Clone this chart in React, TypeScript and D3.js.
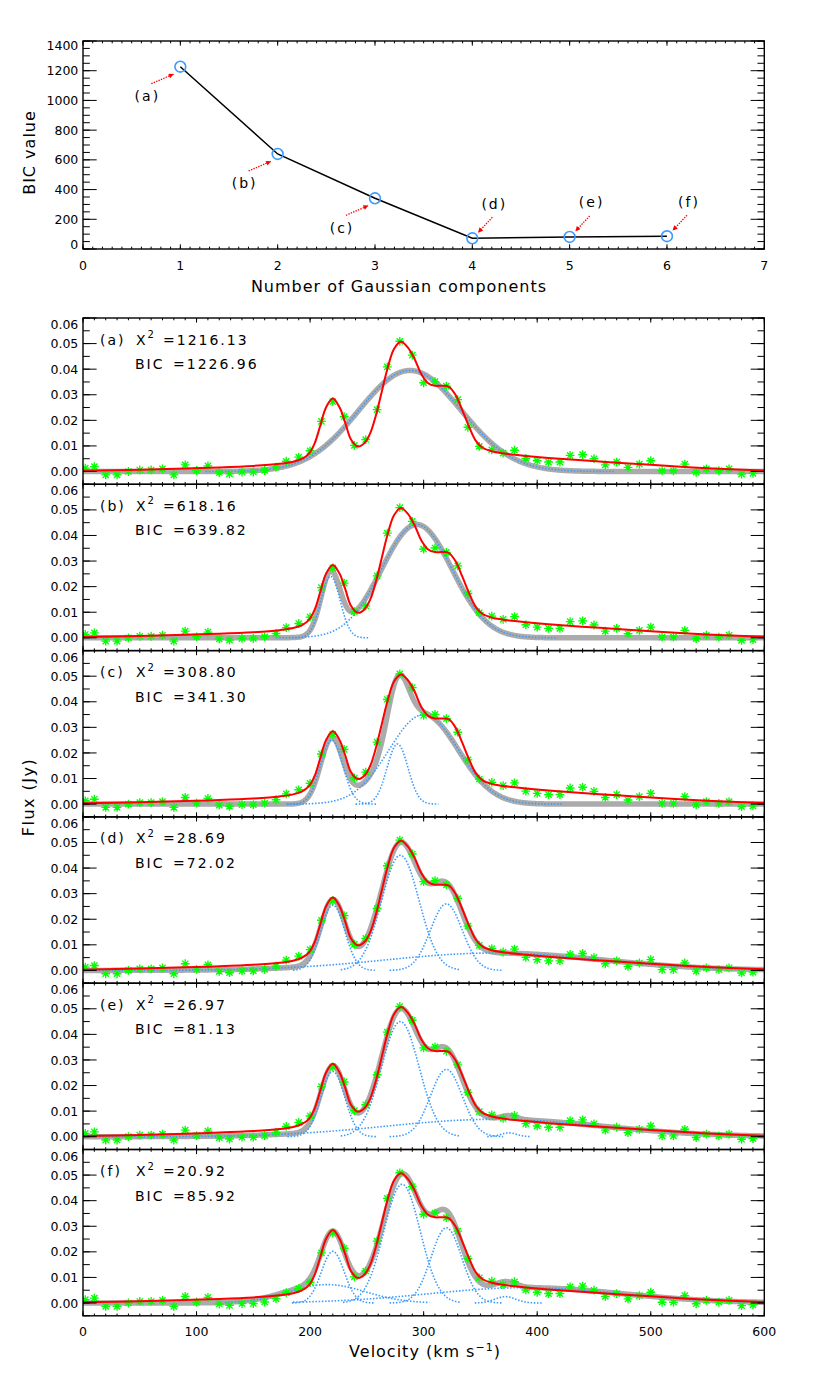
import React from 'react';
import * as d3 from 'd3';

// ---------------- DATA ----------------
// Top chart: BIC vs number of Gaussian components
const nComponents = [1, 2, 3, 4, 5, 6];
const bicValues = [1226.96, 639.82, 341.30, 72.02, 81.13, 85.92];
const chi2Values = [1216.13, 618.16, 308.80, 28.69, 26.97, 20.92];
const panelLetters = ['a', 'b', 'c', 'd', 'e', 'f'];
const topXTicks = [0, 1, 2, 3, 4, 5, 6, 7];
const topYTicks = [0, 200, 400, 600, 800, 1000, 1200, 1400];

// Observed spectrum (green asterisks)
const velocity = [2, 10, 20, 30, 40, 50, 60, 70, 80, 90, 100, 110, 120, 129, 140, 150, 160, 170, 179, 190,
  200, 210, 220, 230, 239, 249, 259, 268, 279, 290, 300, 310, 320, 330, 339, 349, 360, 370, 380, 390,
  400, 410, 420, 429, 440, 450, 460, 470, 480, 490, 500, 510, 520, 530, 540, 549, 560, 569, 580, 590];
const flux = [0.0013, 0.0019, -0.0013, -0.0013, 0.0000, 0.0006, 0.0006, 0.0010, -0.0013, 0.0026,
  0.0004, 0.0022, -0.0004, -0.0009, -0.0002, -0.0002, 0.0004, 0.0017, 0.0040, 0.0056,
  0.0081, 0.0196, 0.0273, 0.0214, 0.0102, 0.0125, 0.0242, 0.0409, 0.0509, 0.0455,
  0.0347, 0.0351, 0.0334, 0.0281, 0.0173, 0.0098, 0.0085, 0.0072, 0.0083, 0.0051,
  0.0042, 0.0037, 0.0037, 0.0063, 0.0066, 0.0050, 0.0026, 0.0037, 0.0016, 0.0029,
  0.0042, 0.0003, 0.0003, 0.0029, -0.0003, 0.0010, 0.0003, 0.0010, -0.0010, -0.0007];

// Smoothed spectrum (red line)
const smoothVelocity = [0, 50, 90, 120, 150, 173, 185, 193, 199, 204, 209, 214, 220, 226, 231, 236, 242, 248,
  253, 258, 263, 268, 274, 280, 286, 292, 298, 304, 310, 316, 322, 328, 334, 340, 346, 352, 360, 370,
  390, 410, 455, 500, 550, 600];
const smoothFlux = [0.0003, 0.0007, 0.0012, 0.0016, 0.0022, 0.0030, 0.0038, 0.0050, 0.0070, 0.0110, 0.0180,
  0.0250, 0.0285, 0.0250, 0.0190, 0.0125, 0.0098, 0.0112, 0.0150, 0.0220, 0.0310, 0.0400, 0.0480, 0.0507,
  0.0485, 0.0440, 0.0380, 0.0345, 0.0335, 0.0335, 0.0332, 0.0300, 0.0240, 0.0175, 0.0120, 0.0093, 0.0079,
  0.0071, 0.0061, 0.0053, 0.0039, 0.0026, 0.0013, 0.0004];

// Gaussian components per panel: [amplitude (Jy), centre (km/s), sigma (km/s), drawn from, drawn to]
const componentsA = [[0.0395, 288, 45, 108, 468]];
const componentsB = [[0.0240, 218, 8.5, 184, 252], [0.0443, 294, 31, 170, 418]];
const componentsC = [[0.0250, 219, 9.8, 180, 258], [0.0235, 277, 9.2, 240, 313], [0.0350, 300, 30.5, 179, 422]];
const componentsD = [[0.0255, 220, 10.5, 185, 257], [0.0450, 279.5, 16.5, 227, 332], [0.0260, 320, 14, 270, 370],
  [0.0068, 362, 95, 0, 600]];
const componentsE = [[0.0255, 220, 10.5, 180, 259], [0.0450, 279.5, 16.5, 227, 332], [0.0263, 320, 14, 270, 370],
  [0.0068, 362, 95, 0, 600], [0.0015, 375, 7, 356, 394]];
const componentsF = [[0.0202, 220, 10, 184, 256], [0.0072, 215, 34, 125, 305], [0.0464, 281, 16, 229, 333],
  [0.0294, 320, 13.5, 270, 370], [0.0060, 390, 85, 185, 600], [0.0025, 372, 9, 345, 405]];
const panelComponents = [componentsA, componentsB, componentsC, componentsD, componentsE, componentsF];

const velTicks = [0, 100, 200, 300, 400, 500, 600];
const fluxTicks = [0, 0.01, 0.02, 0.03, 0.04, 0.05, 0.06];

// ---------------- LAYOUT / STYLE ----------------
const FONT = "'DejaVu Sans', Verdana, sans-serif";
const XL = 83, XR = 764.3;
const TOP_T = 41, TOP_B = 249;
const P0 = 318, PH = 166.3;
const GREEN = '#00ff00', BLUE = '#3a9bff', GRAY = '#ababab', RED = '#ff0000';

const gauss = (c: number[], v: number) => c[0] * Math.exp(-((v - c[1]) ** 2) / (2 * c[2] * c[2]));

function BoxTicks({ x, y, xMajor, xMinor, yMajor, yMinor, xLen, yLen }: any) {
  const [x0, x1] = x.range();
  const [y0, y1] = y.range(); // y0 bottom, y1 top
  const lines: any[] = [];
  xMinor.forEach((t: number, i: number) => {
    const px = x(t);
    lines.push(<line key={'xb' + i} x1={px} x2={px} y1={y0} y2={y0 - xLen / 2} />);
    lines.push(<line key={'xt' + i} x1={px} x2={px} y1={y1} y2={y1 + xLen / 2} />);
  });
  xMajor.forEach((t: number, i: number) => {
    const px = x(t);
    lines.push(<line key={'Xb' + i} x1={px} x2={px} y1={y0} y2={y0 - xLen} />);
    lines.push(<line key={'Xt' + i} x1={px} x2={px} y1={y1} y2={y1 + xLen} />);
  });
  yMinor.forEach((t: number, i: number) => {
    const py = y(t);
    lines.push(<line key={'yl' + i} x1={x0} x2={x0 + yLen / 2} y1={py} y2={py} />);
    lines.push(<line key={'yr' + i} x1={x1} x2={x1 - yLen / 2} y1={py} y2={py} />);
  });
  yMajor.forEach((t: number, i: number) => {
    const py = y(t);
    lines.push(<line key={'Yl' + i} x1={x0} x2={x0 + yLen} y1={py} y2={py} />);
    lines.push(<line key={'Yr' + i} x1={x1} x2={x1 - yLen} y1={py} y2={py} />);
  });
  return (
    <g stroke="#000" strokeWidth={1}>
      {lines}
      <rect x={x0} y={y1} width={x1 - x0} height={y0 - y1} fill="none" strokeWidth={1.4} />
    </g>
  );
}

function Asterisk({ x, y }: { x: number; y: number }) {
  const r = 4.4, d = r * 0.7071;
  return (
    <path d={`M${x - r},${y}H${x + r}M${x},${y - r}V${y + r}M${x - d},${y - d}L${x + d},${y + d}M${x - d},${y + d}L${x + d},${y - d}`}
      stroke={GREEN} strokeWidth={1.35} fill="none" />
  );
}

function Panel({ idx }: { idx: number }) {
  const top = P0 + idx * PH;
  const bottom = top + PH;
  const x = d3.scaleLinear().domain([0, 600]).range([XL, XR]);
  const y = d3.scaleLinear().domain([-0.005, 0.06]).range([bottom, top]);
  const comps = panelComponents[idx];
  const grid = d3.range(0, 600.01, 1);
  const model = d3.line<number>().x(v => x(v)).y(v => y(d3.sum(comps, c => gauss(c, v))));
  const compLine = (c: number[]) =>
    d3.line<number>().x(v => x(v)).y(v => y(gauss(c, v)))(d3.range(c[3], c[4] + 0.01, 0.5));
  const smooth = d3.line<number>().x(v => x(v)).y((v, i) => y(smoothFlux[i])).curve(d3.curveCatmullRom.alpha(0.5));
  const clipId = 'clip' + idx;
  const fs = 12.5;
  return (
    <g>
      <clipPath id={clipId}><rect x={XL} y={top} width={XR - XL} height={PH} /></clipPath>
      <g clipPath={`url(#${clipId})`}>
        <path d={model(grid) || ''} fill="none" stroke={GRAY} strokeWidth={5.5} strokeLinejoin="round" />
        {comps.map((c, i) => (
          <path key={i} d={compLine(c) || ''} fill="none" stroke={BLUE} strokeWidth={1.6} strokeDasharray="1.5 1.7" />
        ))}
        {velocity.map((v, i) => <Asterisk key={i} x={x(v)} y={y(flux[i])} />)}
        <path d={smooth(smoothVelocity) || ''} fill="none" stroke={RED} strokeWidth={2} />
      </g>
      <BoxTicks x={x} y={y} xMajor={velTicks} xMinor={d3.range(0, 601, 10)}
        yMajor={fluxTicks} yMinor={d3.range(-0.005, 0.0601, 0.005)} xLen={4.6} yLen={13.6} />
      {fluxTicks.map((t, i) => {
        const cy = Math.max(y(t), top + 6.5);
        return (
          <text key={i} x={78.3} y={cy + 0.365 * fs} textAnchor="end" fontSize={fs} fontFamily={FONT}>
            {t.toFixed(2)}
          </text>
        );
      })}
      {idx === 5 && velTicks.map((t, i) => (
        <text key={'v' + i} x={x(t)} y={1336.3} textAnchor="middle" fontSize={fs} fontFamily={FONT}>{t}</text>
      ))}
      <g fontFamily={FONT} fontSize={14} letterSpacing={2}>
        <text x={100} y={top + 26.5}>({panelLetters[idx]})</text>
        <text x={136} y={top + 26.5}>X<tspan dy={-6.5} fontSize={10} letterSpacing={0}>2</tspan></text>
        <text x={163} y={top + 26.5}>={chi2Values[idx].toFixed(2)}</text>
        <text x={135} y={top + 51}>BIC</text>
        <text x={173} y={top + 51}>={bicValues[idx].toFixed(2)}</text>
      </g>
    </g>
  );
}

export default function App() {
  const xTop = d3.scaleLinear().domain([0, 7]).range([XL, XR]);
  const yTop = d3.scaleLinear().domain([0, 1400]).range([TOP_B, TOP_T]);
  const topLine = d3.line<number>().x((d, i) => xTop(nComponents[i])).y(d => yTop(d));
  const fs = 12.5;

  return (
    <svg width={831} height={1385} style={{ position: 'absolute', left: 0, top: 0, background: '#fff' }}>
      <defs>
        <marker id="arrowRed" viewBox="0 0 10 10" refX={9} refY={5} markerWidth={6} markerHeight={5}
          markerUnits="userSpaceOnUse" orient="auto">
          <path d="M0,0L10,5L0,10z" fill={RED} />
        </marker>
      </defs>
      <rect x={0} y={0} width={831} height={1385} fill="#fff" />

      {/* ---------- Top chart ---------- */}
      <path d={topLine(bicValues) || ''} fill="none" stroke="#000" strokeWidth={1.5} />
      {bicValues.map((b, i) => (
        <circle key={i} cx={xTop(nComponents[i])} cy={yTop(b)} r={5.4} fill="none" stroke={BLUE} strokeWidth={1.6} />
      ))}
      {bicValues.map((b, i) => {
        const cx = xTop(nComponents[i]), cy = yTop(b);
        const low = i < 3;
        const tail = low ? [cx - 29, cy + 17] : [cx + 20, cy - 21];
        const head = low ? [cx - 7, cy + 7.5] : [cx + 6, cy - 6];
        const lab = low ? [cx - 33, cy + 30] : [cx + 22, cy - 34];
        return (
          <g key={'ann' + i}>
            <line x1={tail[0]} y1={tail[1]} x2={head[0]} y2={head[1]} stroke={RED} strokeWidth={1.3}
              strokeDasharray="1.4 1.2" markerEnd="url(#arrowRed)" />
            <text x={lab[0]} y={lab[1] + 4.4} textAnchor="middle" fontFamily={FONT} fontSize={14} letterSpacing={2}>
              ({panelLetters[i]})
            </text>
          </g>
        );
      })}
      <BoxTicks x={xTop} y={yTop} xMajor={topXTicks} xMinor={d3.range(0, 7.001, 0.1)}
        yMajor={topYTicks} yMinor={d3.range(0, 1401, 50)} xLen={4.7} yLen={13.7} />
      {topYTicks.map((t, i) => {
        const cy = Math.min(Math.max(yTop(t), TOP_T + 4.7), TOP_B - 4.7);
        return (
          <text key={i} x={78.3} y={cy + 0.365 * fs} textAnchor="end" fontSize={fs} fontFamily={FONT}>{t}</text>
        );
      })}
      {topXTicks.map((t, i) => (
        <text key={i} x={xTop(t)} y={269.6} textAnchor="middle" fontSize={fs} fontFamily={FONT}>{t}</text>
      ))}
      <text x={399} y={291.5} textAnchor="middle" fontSize={16} letterSpacing={1} fontFamily={FONT}>
        Number of Gaussian components
      </text>
      <text transform="translate(34.5,152.5) rotate(-90)" textAnchor="middle" fontSize={16} letterSpacing={1}
        fontFamily={FONT}>BIC value</text>

      {/* ---------- Spectral panels ---------- */}
      {panelComponents.map((_, i) => <Panel key={i} idx={i} />)}

      <text transform="translate(34,797) rotate(-90)" textAnchor="middle" fontSize={16} letterSpacing={1.5}
        fontFamily={FONT}>Flux (Jy)</text>
      <text x={425} y={1356.5} textAnchor="middle" fontSize={16} letterSpacing={1} fontFamily={FONT}>
        Velocity (km s<tspan dy={-6} fontSize={11}>−1</tspan><tspan dy={6}>)</tspan>
      </text>
    </svg>
  );
}
